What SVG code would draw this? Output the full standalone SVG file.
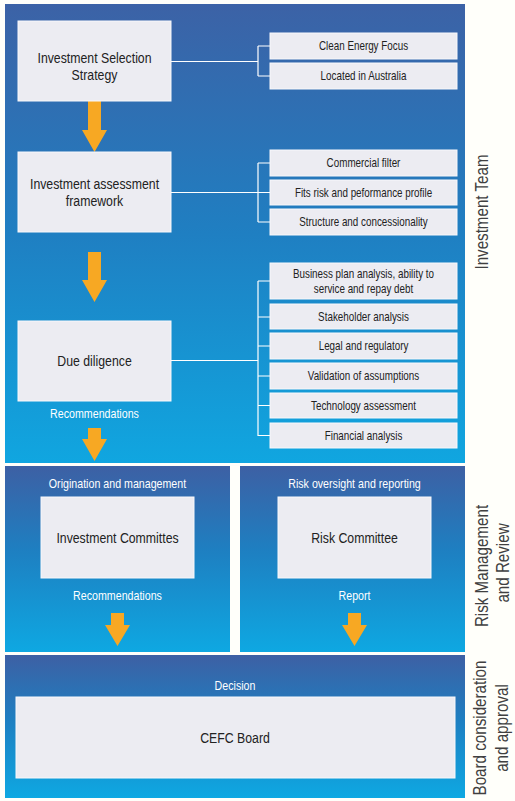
<svg xmlns="http://www.w3.org/2000/svg" width="515" height="801" viewBox="0 0 515 801">
<defs>
<linearGradient id="panel" x1="0" y1="0" x2="0" y2="1">
<stop offset="0" stop-color="#3c62a6"/>
<stop offset="0.5" stop-color="#1f7fc2"/>
<stop offset="1" stop-color="#10a6e0"/>
</linearGradient>
<linearGradient id="panel2" x1="0" y1="0" x2="0" y2="1">
<stop offset="0" stop-color="#3d60a4"/>
<stop offset="0.45" stop-color="#1e7fc1"/>
<stop offset="1" stop-color="#0ea8e2"/>
</linearGradient>
</defs>
<style>
.bg{fill:#fffffa}
.pnl{fill:url(#panel)}
.pnl2{fill:url(#panel2)}
.box{fill:#ececf2;stroke:#f8f8fb;stroke-width:1}
text{font-family:"Liberation Sans Narrow","Liberation Sans",Arial,sans-serif;text-anchor:middle}
.main{font-size:15px;fill:#222}
.sub{font-size:12px;fill:#222}
.lbl{font-size:13px;fill:#ffffff}
.side{font-size:18.5px;fill:#404040}
.ln{stroke:#ffffff;stroke-width:1.2;fill:none}
.arr{fill:#f7a823}
</style>
<rect class="bg" x="0" y="0" width="515" height="801"/>
<rect class="pnl" x="5" y="4" width="460" height="459"/>
<rect class="pnl2" x="5" y="466" width="225" height="186"/>
<rect class="pnl2" x="240" y="466" width="225" height="186"/>
<rect class="pnl2" x="5" y="655" width="460" height="143"/>

<g id="connectors">
<path class="ln" d="M171 61.5H258M258 46V76M258 46H270M258 76H270"/>
<path class="ln" d="M171 192.5H258M258 163V222M258 163H270M258 192.5H270M258 222H270"/>
<path class="ln" d="M171 360.5H258M258 281V436M258 281H270M258 317H270M258 346H270M258 376H270M258 405.5H270M258 435.5H270"/>
<polygon class="arr" points="88,101 101,101 101,130 107,130 94.5,152 82,130 88,130"/>
<polygon class="arr" points="88,252 101,252 101,280 107,280 94.5,302 82,280 88,280"/>
<polygon class="arr" points="88,428 101,428 101,439 107,439 94.5,461 82,439 88,439"/>
<polygon class="arr" points="111,613 124,613 124,625 130,625 117.5,646 105,625 111,625"/>
<polygon class="arr" points="348,613 361,613 361,625 367,625 354.5,646 342,625 348,625"/>
</g>

<g id="n-selection">
<rect class="box" x="18" y="21" width="153" height="80"/>
<text class="main" transform="translate(94.5,63) scale(0.82,1)">Investment Selection</text>
<text class="main" transform="translate(94.5,80) scale(0.82,1)">Strategy</text>
</g>
<g id="n-clean">
<rect class="box" x="270" y="33" width="187" height="26"/>
<text class="sub" transform="translate(363.5,50) scale(0.82,1)">Clean Energy Focus</text>
</g>
<g id="n-located">
<rect class="box" x="270" y="63" width="187" height="26"/>
<text class="sub" transform="translate(363.5,80) scale(0.82,1)">Located in Australia</text>
</g>

<g id="n-framework">
<rect class="box" x="18" y="152" width="153" height="80"/>
<text class="main" transform="translate(94.5,189) scale(0.82,1)">Investment assessment</text>
<text class="main" transform="translate(94.5,206) scale(0.82,1)">framework</text>
</g>
<g id="n-commercial">
<rect class="box" x="270" y="150" width="187" height="26"/>
<text class="sub" transform="translate(363.5,167) scale(0.82,1)">Commercial filter</text>
</g>
<g id="n-fits">
<rect class="box" x="270" y="180" width="187" height="25"/>
<text class="sub" transform="translate(363.5,197) scale(0.82,1)">Fits risk and peformance profile</text>
</g>
<g id="n-structure">
<rect class="box" x="270" y="209" width="187" height="26"/>
<text class="sub" transform="translate(363.5,226) scale(0.82,1)">Structure and concessionality</text>
</g>

<g id="n-due">
<rect class="box" x="18" y="321" width="153" height="80"/>
<text class="main" transform="translate(94.5,366) scale(0.82,1)">Due diligence</text>
</g>
<text class="lbl" transform="translate(94.5,418) scale(0.82,1)">Recommendations</text>
<g id="n-business">
<rect class="box" x="270" y="263" width="187" height="36"/>
<text class="sub" transform="translate(363.5,278) scale(0.82,1)">Business plan analysis, ability to</text>
<text class="sub" transform="translate(363.5,293) scale(0.82,1)">service and repay debt</text>
</g>
<g id="n-stakeholder">
<rect class="box" x="270" y="304" width="187" height="25"/>
<text class="sub" transform="translate(363.5,321) scale(0.82,1)">Stakeholder analysis</text>
</g>
<g id="n-legal">
<rect class="box" x="270" y="333" width="187" height="26"/>
<text class="sub" transform="translate(363.5,350) scale(0.82,1)">Legal and regulatory</text>
</g>
<g id="n-validation">
<rect class="box" x="270" y="363" width="187" height="26"/>
<text class="sub" transform="translate(363.5,380) scale(0.82,1)">Validation of assumptions</text>
</g>
<g id="n-technology">
<rect class="box" x="270" y="393" width="187" height="25"/>
<text class="sub" transform="translate(363.5,410) scale(0.82,1)">Technology assessment</text>
</g>
<g id="n-financial">
<rect class="box" x="270" y="423" width="187" height="25"/>
<text class="sub" transform="translate(363.5,440) scale(0.82,1)">Financial analysis</text>
</g>

<g id="n-invcomm">
<text class="lbl" transform="translate(117.5,488) scale(0.82,1)">Origination and management</text>
<rect class="box" x="41" y="497" width="153" height="81"/>
<text class="main" transform="translate(117.5,543) scale(0.82,1)">Investment Committes</text>
<text class="lbl" transform="translate(117.5,600) scale(0.82,1)">Recommendations</text>
</g>
<g id="n-riskcomm">
<text class="lbl" transform="translate(354.5,488) scale(0.82,1)">Risk oversight and reporting</text>
<rect class="box" x="278" y="497" width="153" height="81"/>
<text class="main" transform="translate(354.5,543) scale(0.82,1)">Risk Committee</text>
<text class="lbl" transform="translate(354.5,600) scale(0.82,1)">Report</text>
</g>
<g id="n-board">
<text class="lbl" transform="translate(235,690) scale(0.82,1)">Decision</text>
<rect class="box" x="16" y="697" width="439" height="81"/>
<text class="main" transform="translate(235,743) scale(0.82,1)">CEFC Board</text>
</g>

<g id="side-labels">
<text class="side" transform="translate(488,212) rotate(-90) scale(0.82,1)">Investment Team</text>
<text class="side" transform="translate(488,566) rotate(-90) scale(0.82,1)">Risk Management</text>
<text class="side" transform="translate(509,563) rotate(-90) scale(0.82,1)">and Review</text>
<text class="side" transform="translate(486,728) rotate(-90) scale(0.82,1)">Board consideration</text>
<text class="side" transform="translate(508,728) rotate(-90) scale(0.82,1)">and approval</text>
</g>
</svg>
